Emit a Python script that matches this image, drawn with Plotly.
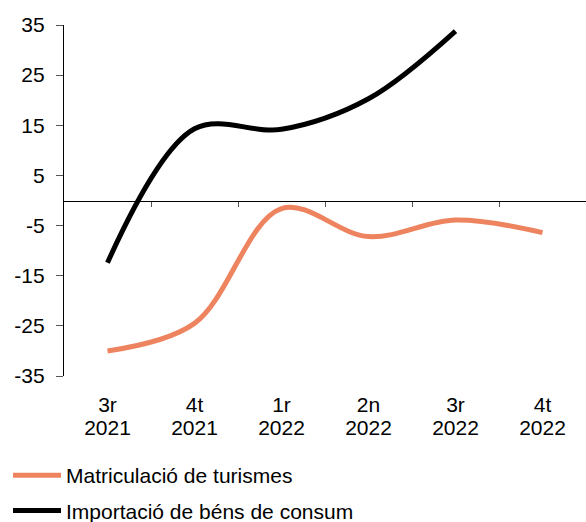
import plotly.graph_objects as go

quarters = ["3r", "4t", "1r", "2n", "3r", "4t"]
years = ["2021", "2021", "2022", "2022", "2022", "2022"]
matriculacio = [-30.0, -24.5, -1.6, -7.2, -3.9, -6.4]
importacio = [-12.4, 14.3, 14.2, 20.3, 33.8, None]
ytick_vals = [-35, -25, -15, -5, 5, 15, 25, 35]
ytick_text = [str(v) for v in ytick_vals]

xs = list(range(len(quarters)))
font_family = "Liberation Sans, Arial, sans-serif"
FS = 21
W, H = 586, 522

fig = go.Figure()
fig.add_trace(go.Scatter(
    x=xs, y=matriculacio, name="Matriculació de turismes", mode="lines",
    line=dict(color="#EE845F", width=5, shape="spline", smoothing=1.0),
    legendgroup="a",
))
fig.add_trace(go.Scatter(
    x=xs, y=importacio, name="Importació de béns de consum", mode="lines",
    line=dict(color="#000000", width=5, shape="spline", smoothing=1.0),
    legendgroup="b", connectgaps=False,
))
# invisible carriers for the extra axes
fig.add_trace(go.Scatter(x=[xs[0]], y=[0], xaxis="x2", mode="markers",
                         marker=dict(opacity=0), showlegend=False, hoverinfo="skip"))
fig.add_trace(go.Scatter(x=[xs[0]], y=[0], xaxis="x3", mode="markers",
                         marker=dict(opacity=0), showlegend=False, hoverinfo="skip"))

ybot_px, ytop_px = 376, 25
xdom = [64 / W, 1.0]
ydom = [(H - ybot_px) / H, (H - ytop_px) / H]
zero_pos = (ydom[0] + ydom[1]) / 2  # y=0 sits in the middle of the symmetric range
common_x = dict(range=[-0.5, 5.5], domain=xdom, showgrid=False, zeroline=False, automargin=False)

fig.update_layout(
    width=W, height=H,
    margin=dict(l=0, r=0, t=0, b=0, autoexpand=False),
    paper_bgcolor="white", plot_bgcolor="white",
    font=dict(family=font_family, size=FS, color="#000000"),
    showlegend=True,
    legend=dict(x=8 / W, y=(H - 455) / H, xanchor="left", yanchor="top",
                orientation="v", itemwidth=48, tracegroupgap=5,
                font=dict(size=FS), bgcolor="rgba(0,0,0,0)"),
    xaxis=dict(**common_x, tickmode="array", tickvals=xs, ticktext=quarters,
               showline=False, ticks="outside", ticklen=10,
               tickcolor="rgba(0,0,0,0)", tickfont=dict(size=FS)),
    xaxis3=dict(**common_x, overlaying="x", anchor="y", side="bottom",
                tickmode="array", tickvals=xs, ticktext=years,
                showline=False, ticks="outside", ticklen=33,
                tickcolor="rgba(0,0,0,0)", tickfont=dict(size=FS)),
    xaxis2=dict(**common_x, overlaying="x", anchor="free", position=zero_pos,
                tickmode="array", tickvals=[x + 0.5 for x in xs],
                showticklabels=False, showline=True, linecolor="#000000", linewidth=1.2,
                ticks="outside", ticklen=5, tickcolor="#555555", tickwidth=1),
    yaxis=dict(range=[-35, 35], domain=ydom, tickmode="array", tickvals=ytick_vals,
               ticktext=ytick_text,
               showline=True, linecolor="#000000", linewidth=1.2, automargin=False,
               ticks="outside", ticklen=7, tickcolor="#555555", tickwidth=1,
               showgrid=False, zeroline=False, ticklabelstandoff=7,
               tickfont=dict(size=FS)),
)

fig.write_html("out.html", config={"displayModeBar": False},
               post_script="document.body.style.margin='0';document.body.style.overflow='hidden';")
